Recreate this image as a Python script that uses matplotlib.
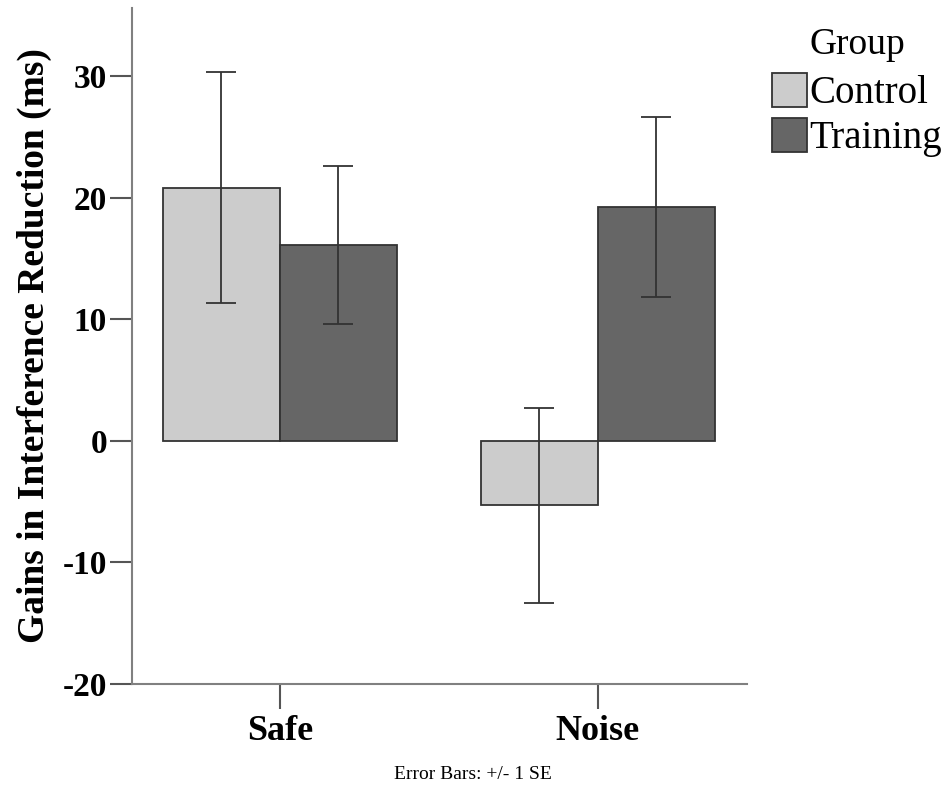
import matplotlib
matplotlib.use("Agg")
import matplotlib.pyplot as plt
import numpy as np

# data
conditions = ["Safe", "Noise"]
groups = ["Control", "Training"]
control_means = [20.8, -5.3]
control_se = [9.5, 8.0]
training_means = [16.1, 19.2]
training_se = [6.5, 7.4]

plt.rcParams["font.family"] = ["Liberation Serif", "DejaVu Serif"]
plt.rcParams["axes.unicode_minus"] = False

fig = plt.figure(figsize=(9.45, 7.91), dpi=100)
ax = fig.add_axes([0.1397, 0.1353, 0.7905 - 0.1397, 0.9899 - 0.1353])

x = np.arange(len(conditions))
width = 0.368
colors = ["#cccccc", "#666666"]
err_kw = dict(ecolor="#333333", elinewidth=1.3, capsize=10.5, capthick=1.3)

ax.bar(x - width / 2, control_means, width, yerr=control_se, color=colors[0],
       edgecolor="#333333", linewidth=1.3, label=groups[0], error_kw=err_kw)
ax.bar(x + width / 2, training_means, width, yerr=training_se, color=colors[1],
       edgecolor="#333333", linewidth=1.3, label=groups[1], error_kw=err_kw)

ax.set_xlim(-0.465, 1.469)
ax.set_ylim(-20, 35.6)
ax.set_yticks([-20, -10, 0, 10, 20, 30])
ax.set_xticks(x)
ax.set_xticklabels(conditions)

for side in ["top", "right"]:
    ax.spines[side].set_visible(False)
for side in ["left", "bottom"]:
    ax.spines[side].set_color("#808080")
    ax.spines[side].set_linewidth(1.5)

ax.tick_params(axis="y", length=16, width=1.5, color="#555555", labelsize=24, pad=2)
ax.tick_params(axis="x", length=18, width=1.5, color="#555555", labelsize=26, pad=4)
for lbl in ax.get_xticklabels() + ax.get_yticklabels():
    lbl.set_fontweight("bold")

ax.set_ylabel("Gains in Interference Reduction (ms)", fontsize=27,
              fontweight="bold", labelpad=8)

# legend: title drawn as its own text so the gap matches the original
fig.text(857 / 945, 1 - 28 / 791, "Group", ha="center", va="top", fontsize=27)
leg = fig.legend(loc="upper left", bbox_to_anchor=(772 / 945, 1 - 73 / 791),
                 frameon=False, fontsize=28, borderpad=0,
                 handlelength=0.9, handleheight=0.95, handletextpad=0.05,
                 labelspacing=0.15, borderaxespad=0)
for h in leg.legend_handles:
    h.set_edgecolor("#333333")

fig.text(0.5, 0.015, "Error Bars: +/- 1 SE", ha="center", fontsize=14)

fig.savefig("out.png", dpi=100)
